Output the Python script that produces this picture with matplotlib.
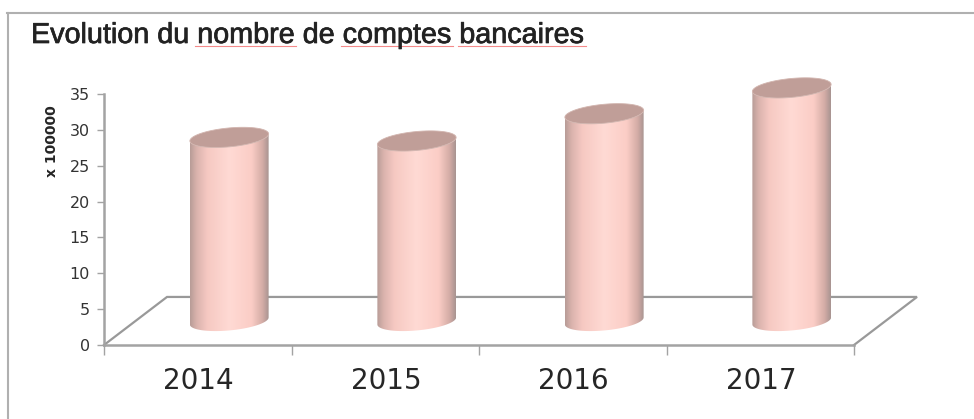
import matplotlib
matplotlib.use("Agg")
import matplotlib.pyplot as plt
import matplotlib.patheffects as pe
import numpy as np
from matplotlib.colors import LinearSegmentedColormap
from matplotlib.lines import Line2D
from matplotlib.patches import Polygon

W, H = 974, 419

years = ["2014", "2015", "2016", "2017"]
comptes = [25.6, 25.1, 28.9, 32.5]
y_ticks = [0, 5, 10, 15, 20, 25, 30, 35]

GRAY = "#a3a3a3"
DEPTH_X = 0.336  # floor depth, in categories
DEPTH_Y = 6.7    # floor depth, in y units
HALF_W = 0.21
ELL_B = 1.32
ELL_S = 0.49

cyl_cmap = LinearSegmentedColormap.from_list(
    "cyl",
    [
        (0.0, "#b79c97"),
        (0.08, "#d9b2ac"),
        (0.22, "#f6c9c2"),
        (0.50, "#ffdad4"),
        (0.78, "#fbcdc6"),
        (0.92, "#d4aca6"),
        (1.0, "#a89491"),
    ],
)

plt.rcParams["font.family"] = ["DejaVu Sans"]


def px_axes(left, top, right, bottom):
    return [left / W, 1 - bottom / H, (right - left) / W, (bottom - top) / H]


def ellipse(cx, cy, n=81):
    t = np.linspace(0, 2 * np.pi, n)
    return cx + HALF_W * np.cos(t), cy + ELL_B * np.sin(t) + ELL_S * np.cos(t)


def draw_cylinder(ax, pos, value):
    cx = pos + 0.5 + DEPTH_X / 2
    base = DEPTH_Y / 2
    top = base + value

    # side = lower half of base ellipse + lower half of the top ellipse
    t = np.linspace(np.pi, 2 * np.pi, 60)
    low_x = cx + HALF_W * np.cos(t)
    low_off = ELL_B * np.sin(t) + ELL_S * np.cos(t)
    side_x = np.r_[low_x, low_x[::-1]]
    side_y = np.r_[base + low_off, top + low_off[::-1]]
    side = Polygon(np.column_stack([side_x, side_y]), closed=True, fc="none", ec="none",
                   transform=ax.transData, clip_on=False)
    ax.add_patch(side)

    grad = np.linspace(0, 1, 256).reshape(1, -1)
    im = ax.imshow(grad, cmap=cyl_cmap, aspect="auto", zorder=3,
                   extent=[cx - HALF_W, cx + HALF_W, base - 3, top + 3])
    im.set_clip_box(fig.bbox)
    im.set_clip_path(side)

    xt, yt = ellipse(cx, top)
    ax.fill(xt, yt, fc="#c09e98", ec="#d2b5af", lw=0.6, zorder=5, clip_on=False)


fig = plt.figure(figsize=(W / 100, H / 100), dpi=100)
fig.patch.set_facecolor("white")

# frame, only top and left are visible in the crop
fig.add_artist(Line2D([7 / W, 1], [1 - 13.5 / H] * 2, color="#b0b0b0", lw=1.5))
fig.add_artist(Line2D([7.5 / W] * 2, [0, 1 - 13 / H], color="#b0b0b0", lw=1.5))

ax = fig.add_axes(px_axes(104, 94, 854, 345))
ax.set_facecolor("none")

# floor
ax.plot([0, DEPTH_X, 4 + DEPTH_X, 4], [0, DEPTH_Y, DEPTH_Y, 0], color="#999999", lw=1.6,
        clip_on=False, zorder=1, solid_joinstyle="miter")

for i, value in enumerate(comptes):
    draw_cylinder(ax, i, value)

ax.set_xlim(0, 4)
ax.set_ylim(0, 35)

for side in ["top", "right"]:
    ax.spines[side].set_visible(False)
for side in ["left", "bottom"]:
    ax.spines[side].set_color(GRAY)
    ax.spines[side].set_linewidth(1.8)

ax.set_xticks(range(5))
ax.set_xticklabels([])
ax.set_yticks(y_ticks)
ax.tick_params(axis="y", length=5, width=1, color=GRAY, labelsize=11.5, labelcolor="#333333", pad=5)
ax.tick_params(axis="x", length=7, width=1, color=GRAY)

# category labels sit on the front edge, between the ticks
for i, year in enumerate(years):
    ax.annotate(year, (i + 0.5, 0), xytext=(0.7, -26), textcoords="offset points",
                ha="center", va="center", fontsize=20, color="#262626", annotation_clip=False)

fig.text(52 / W, 1 - 141 / H, "x 100000", rotation=90, ha="center", va="center",
         fontsize=10, fontweight="bold", color="#262626")

title = fig.text(31 / W, 1 - 35 / H, "Evolution du nombre de comptes bancaires",
                 ha="left", va="center", fontsize=20.7, color="#222222",
                 family=["Liberation Sans", "DejaVu Sans"])
title.set_path_effects([pe.withStroke(linewidth=0.5, foreground="#222222")])

# spell-check underlines from the original screenshot
for x0, x1 in [(195, 296), (341, 453), (458, 586)]:
    fig.add_artist(Line2D([x0 / W, x1 / W], [1 - 46.5 / H] * 2, color="#f48a8a", lw=0.8))

fig.savefig("out.png", dpi=100)
